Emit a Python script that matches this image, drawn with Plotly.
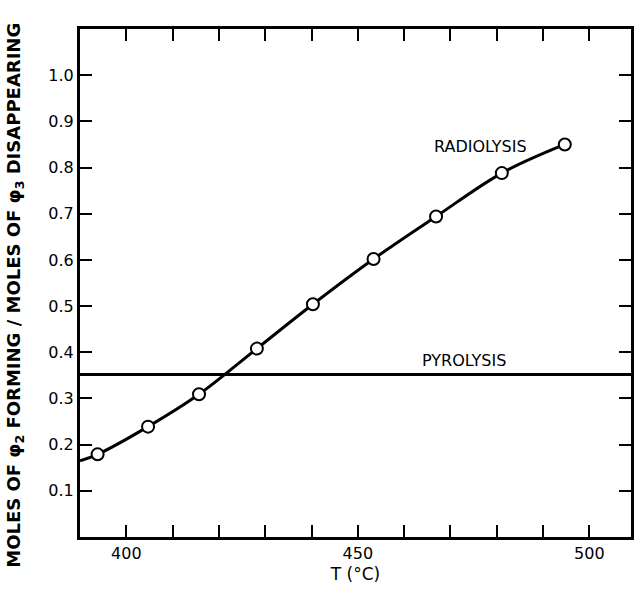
import plotly.graph_objects as go

# Data
temp_c = [393.8, 404.7, 415.7, 428.2, 440.3, 453.4, 466.9, 481.1, 494.7]
radiolysis = [0.179, 0.239, 0.309, 0.408, 0.504, 0.602, 0.694, 0.788, 0.850]
# curve start at the left frame
curve_start_x = [390.0]
curve_start_y = [0.165]
pyrolysis_value = 0.352
x_range = [390, 509]
y_range = [0, 1.1]
x_tickvals = [400, 450, 500]
y_tickvals = [0.1, 0.2, 0.3, 0.4, 0.5, 0.6, 0.7, 0.8, 0.9, 1.0]

font_family = "DejaVu Sans"

fig = go.Figure()

# Pyrolysis horizontal line
fig.add_trace(go.Scatter(
    x=x_range, y=[pyrolysis_value, pyrolysis_value],
    mode="lines", line=dict(color="black", width=3),
    showlegend=False, hoverinfo="skip"))

# Radiolysis smooth curve
fig.add_trace(go.Scatter(
    x=curve_start_x + temp_c, y=curve_start_y + radiolysis,
    mode="lines", line=dict(color="black", width=3, shape="spline", smoothing=1.0),
    showlegend=False, hoverinfo="skip"))

# Radiolysis data points
fig.add_trace(go.Scatter(
    x=temp_c, y=radiolysis, mode="markers",
    marker=dict(symbol="circle", size=12, color="white",
                line=dict(color="black", width=2)),
    showlegend=False))

fig.add_annotation(x=476.5, y=0.845, text="RADIOLYSIS", showarrow=False,
                   font=dict(family=font_family, size=16, color="black"),
                   xanchor="center", yanchor="middle")
fig.add_annotation(x=473, y=0.383, text="PYROLYSIS", showarrow=False,
                   font=dict(family=font_family, size=16, color="black"),
                   xanchor="center", yanchor="middle")

# Y axis title as rotated annotation
fig.add_annotation(
    xref="paper", yref="paper", x=-0.117, y=0.476,
    text="<b>MOLES OF φ<sub>2</sub> FORMING / MOLES OF φ<sub>3</sub> DISAPPEARING</b>",
    textangle=-90, showarrow=False, xanchor="center", yanchor="middle",
    font=dict(family=font_family, size=18, color="black"))

fig.update_layout(
    width=639, height=594,
    margin=dict(l=80, r=5, t=29, b=57),
    paper_bgcolor="white", plot_bgcolor="white",
    font=dict(family=font_family, color="black"),
    xaxis=dict(
        range=x_range, tickvals=x_tickvals,
        ticks="inside", ticklen=12, tickwidth=2, tickcolor="black",
        minor=dict(dtick=10, tick0=400, ticks="inside", ticklen=12,
                   tickwidth=2, tickcolor="black", showgrid=False),
        showline=True, linewidth=3, linecolor="black", mirror="ticks",
        showgrid=False, zeroline=False,
        tickfont=dict(family=font_family, size=16),
        title=dict(text="T (°C)", font=dict(family=font_family, size=17), standoff=6),
    ),
    yaxis=dict(
        range=y_range, tickvals=y_tickvals, tickformat=".1f",
        ticks="inside", ticklen=12, tickwidth=2, tickcolor="black",
        showline=True, linewidth=3, linecolor="black", mirror="ticks",
        showgrid=False, zeroline=False,
        tickfont=dict(family=font_family, size=16),
    ),
)

fig.write_html("out.html")
